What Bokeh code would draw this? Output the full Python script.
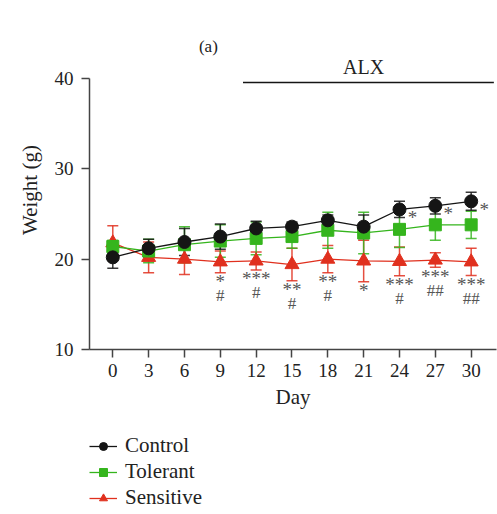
from bokeh.plotting import figure
from bokeh.models import (ColumnDataSource, Whisker, TeeHead, Legend, LegendItem,
                          Label, FixedTicker, Range1d)
from bokeh.layouts import column
from bokeh.embed import file_html
from bokeh.resources import INLINE
from bokeh.core.properties import value

days = [0, 3, 6, 9, 12, 15, 18, 21, 24, 27, 30]
control = [20.2, 21.2, 21.9, 22.5, 23.4, 23.6, 24.3, 23.6, 25.5, 25.9, 26.4]
control_err = [1.2, 1.0, 1.5, 1.4, 0.8, 0.5, 0.6, 1.3, 0.9, 0.9, 1.0]
tolerant = [21.4, 20.9, 21.6, 22.0, 22.3, 22.5, 23.2, 22.9, 23.3, 23.8, 23.8]
tolerant_err = [0.7, 1.3, 2.0, 1.8, 1.8, 1.3, 2.0, 2.3, 2.0, 1.7, 1.5]
sensitive = [21.8, 20.2, 20.0, 19.7, 19.8, 19.4, 20.0, 19.8, 19.75, 19.9, 19.7]
sensitive_err = [1.9, 1.7, 1.7, 1.2, 1.0, 1.8, 1.5, 2.3, 1.6, 0.8, 1.5]

series_names = ["Control", "Tolerant", "Sensitive"]
star_labels = ["", "", "", "*", "***", "**", "**", "*", "***", "***", "***"]
hash_labels = ["", "", "", "#", "#", "#", "#", "", "#", "##", "##"]
control_star = ["", "", "", "", "", "", "", "", "*", "*", "*"]

x_ticks = days
y_ticks = [10, 20, 30, 40]
alx_start, alx_end = 10.9, 31.9

FONT = "Liberation Serif"
BLACK = "#151515"
GREEN = "#35b51d"
RED = "#e0301e"
GRAY = "#555555"

p = figure(width=497, height=425, output_backend="svg", toolbar_location=None,
           x_range=Range1d(-1.95, 32.12), y_range=Range1d(10, 45.31),
           min_border_left=89, min_border_right=1, min_border_top=30,
           min_border_bottom=76)
p.outline_line_color = None
p.grid.visible = False

def series(vals, errs, color, marker, size):
    lower = [v - e for v, e in zip(vals, errs)]
    upper = [v + e for v, e in zip(vals, errs)]
    src = ColumnDataSource(dict(x=days, y=vals, lower=lower, upper=upper))
    w = Whisker(source=src, base="x", lower="lower", upper="upper",
                line_color=color, line_width=1.5, line_alpha=0.85,
                upper_head=TeeHead(size=11, line_color=color, line_width=1.5, line_alpha=0.85),
                lower_head=TeeHead(size=11, line_color=color, line_width=1.5, line_alpha=0.85))
    p.add_layout(w)
    p.line("x", "y", source=src, line_color=color, line_width=1.3)
    p.scatter("x", "y", source=src, marker=marker, size=size,
              fill_color=color, line_color=color)

series(sensitive, sensitive_err, RED, "triangle", 14)
series(tolerant, tolerant_err, GREEN, "square", 12)
series(control, control_err, BLACK, "circle", 13)

# significance annotations
ann = ColumnDataSource(dict(
    x=days,
    y=[v - e for v, e in zip(sensitive, sensitive_err)],
    stars=star_labels, hashes=hash_labels,
    cy=control, cstar=control_star))
p.text("x", "y", text="stars", source=ann, text_font=value(FONT), text_font_size="19px",
       text_color=GRAY, text_align="center", text_baseline="alphabetic", y_offset=9)
p.text("x", "y", text="hashes", source=ann, text_font=value(FONT), text_font_size="17px",
       text_color=GRAY, text_align="center", text_baseline="alphabetic", y_offset=23)
p.text("x", "cy", text="cstar", source=ann, text_font=value(FONT), text_font_size="19px",
       text_color=GRAY, text_align="center", text_baseline="alphabetic", x_offset=13, y_offset=8)

# ALX bar
p.line([alx_start, alx_end], [39.55, 39.55], line_color=BLACK, line_width=1.5)
p.add_layout(Label(x=21.0, y=40.1, text="ALX", text_align="center",
                   text_font=FONT, text_font_size="20px", text_color="#222222"))
p.add_layout(Label(x=8.0, y=42.5, text="(a)", text_align="center",
                   text_font=FONT, text_font_size="17px", text_color="#222222"))

# axes
for ax in (p.xaxis[0], p.yaxis[0]):
    ax.axis_line_color = "#444444"
    ax.axis_line_width = 1.5
    ax.major_tick_line_color = "#444444"
    ax.major_tick_line_width = 1.5
    ax.major_tick_out = 8
    ax.major_tick_in = 0
    ax.minor_tick_line_color = None
    ax.major_label_text_font = FONT
    ax.major_label_text_font_size = "19px"
    ax.major_label_text_color = "#222222"
    ax.axis_label_text_font = FONT
    ax.axis_label_text_font_size = "21px"
    ax.axis_label_text_font_style = "normal"
    ax.axis_label_text_color = "#222222"

p.xaxis.ticker = FixedTicker(ticks=x_ticks)
p.yaxis.ticker = FixedTicker(ticks=y_ticks)
p.yaxis.bounds = (10, 40)
p.xaxis.axis_label = "Day"
p.yaxis.axis_label = "Weight (g)"
p.xaxis.major_label_standoff = 6
p.yaxis.major_label_standoff = 8
p.xaxis.axis_label_standoff = 5
p.yaxis.axis_label_standoff = 10

# legend panel (separate figure below the chart)
lg = figure(width=497, height=89, output_backend="svg", toolbar_location=None,
            x_range=Range1d(0, 1), y_range=Range1d(0, 1),
            x_axis_location=None, y_axis_location=None,
            min_border=0)
lg.outline_line_color = None
lg.grid.visible = False
items = []
for name, color, marker, size in zip(series_names, [BLACK, GREEN, RED],
                                     ["circle", "square", "triangle"], [13, 12, 14]):
    r1 = lg.line([-5, -4], [-5, -4], line_color=color, line_width=1.3)
    r2 = lg.scatter([-5], [-5], marker=marker, size=size, fill_color=color, line_color=color)
    items.append(LegendItem(label=name, renderers=[r1, r2]))
legend = Legend(items=items, location=(0, 4), padding=0, margin=0, spacing=1,
                glyph_width=28, glyph_height=20, label_height=20, label_standoff=8,
                label_text_font=FONT, label_text_font_size="21px", label_text_color="#222222",
                border_line_color=None, background_fill_alpha=0)
lg.add_layout(legend)

open("out.html", "w").write(file_html(column(p, lg, spacing=0), INLINE))
